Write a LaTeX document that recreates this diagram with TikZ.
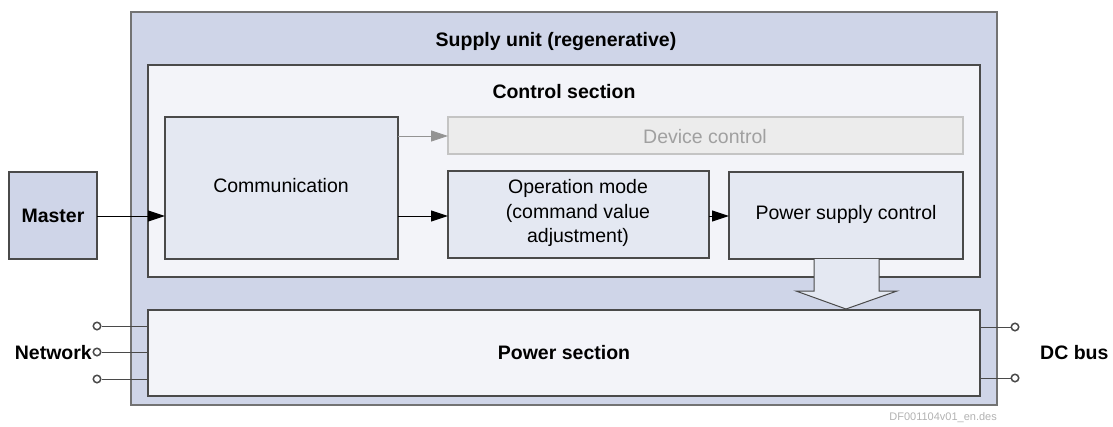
\documentclass[tikz,border=0pt]{standalone}
\usepackage{fontspec}
\setmainfont{Liberation Sans}
\usetikzlibrary{arrows.meta}
\definecolor{unitfill}{HTML}{CFD5E8}
\definecolor{secfill}{HTML}{F3F4F9}
\definecolor{blockfill}{HTML}{E4E8F2}
\definecolor{devfill}{HTML}{ECECEC}
\definecolor{devline}{HTML}{C4C4C4}
\definecolor{devtext}{HTML}{A0A0A0}
\definecolor{edge}{HTML}{4A4A4A}
\tikzset{
  frame/.style={draw=edge, line width=1.3pt, inner sep=0pt, outer sep=0pt, anchor=north west},
  unit/.style={frame, fill=unitfill, draw=gray!90!black},
  section/.style={frame, fill=secfill},
  block/.style={frame, fill=blockfill, align=center, font=\fontsize{19.5}{24.5}\selectfont},
  devblock/.style={frame, fill=devfill, draw=devline, text=devtext, font=\fontsize{19.5}{24}\selectfont},
  heading/.style={font=\bfseries\fontsize{19.5}{24}\selectfont, inner sep=0pt},
  flow/.style={line width=1pt, -{Triangle[length=17pt,width=11pt]}},
  wire/.style={line width=1pt, draw=edge},
  terminal/.style={circle, draw=edge, line width=1.5pt, fill=white, minimum size=7.5pt, inner sep=0pt},
}
\begin{document}
\begin{tikzpicture}[x=1pt, y=-1pt]
\useasboundingbox (0,0) rectangle (1113,426);

% supply unit frame
\node[unit, minimum width=866pt, minimum height=393pt] (unit) at (131,12) {};
\node[heading] (unittitle) at (556,41) {Supply unit (regenerative)};

% control section
\node[section, minimum width=832pt, minimum height=212pt] (ctrl) at (148,65) {};
\node[heading] (ctrltitle) at (564,92) {Control section};

% blocks inside the control section
\node[block, minimum width=233pt, minimum height=142pt] (comm) at (165,117) {};
\node[font=\fontsize{19.5}{24}\selectfont, inner sep=0pt] (commtxt) at (281,186) {Communication};
\node[devblock, minimum width=515pt, minimum height=37pt] (dev) at (448,117) {};
\node[text=devtext, font=\fontsize{19.5}{24}\selectfont, inner sep=0pt] (devtxt) at (705,137) {Device control};
\node[block, minimum width=261pt, minimum height=87pt] (opmode) at (448,171) {};
\node[align=center, font=\fontsize{19.5}{24.5}\selectfont, inner sep=0pt] (optxt) at (578,213) {Operation mode\\(command value\\adjustment)};
\node[block, minimum width=234pt, minimum height=87pt] (psc) at (729,172) {};
\node[font=\fontsize{19.5}{24}\selectfont, inner sep=0pt] (psctxt) at (846,214) {Power supply control};

% power section
\node[section, minimum width=832pt, minimum height=86pt] (power) at (148,310) {};
\node[heading] (powertxt) at (564,353) {Power section};

% master
\node[unit, draw=edge, minimum width=88pt, minimum height=87pt] (master) at (9,172) {};
\node[heading] (mastertxt) at (53,216) {Master};

% signal flow
\draw[flow] (master.east |- 0,216) -- (comm.west |- 0,216);
\draw[flow] (comm.east |- 0,216) -- (opmode.west |- 0,216);
\draw[flow] (opmode.east |- 0,216) -- (psc.west |- 0,216);
\draw[flow, draw=gray!85, line width=0.8pt] (comm.east |- 0,136) -- (dev.west |- 0,136);

% wide arrow from power supply control into the power section
\coordinate (sl) at (814,259);
\coordinate (sr) at (879,259);
\path[fill=blockfill] (sl) -- (814,291) -- (796,291) -- (846,309) -- (897,291) -- (879,291) -- (sr) -- cycle;
\draw[edge, line width=1pt, line join=miter] (sl) -- (814,291) -- (796,291) -- (846,309) -- (897,291) -- (879,291) -- (sr);

% network terminals
\node[terminal] (n1) at (97,326) {};
\node[terminal] (n2) at (97,352) {};
\node[terminal] (n3) at (97,379) {};
\draw[wire] (power.west |- n1) -- (n1);
\draw[wire] (power.west |- n2) -- (n2);
\draw[wire] (power.west |- n3) -- (n3);
\node[heading, anchor=east] (nettxt) at (92,353) {Network};

% DC bus terminals
\node[terminal] (d1) at (1015,327) {};
\node[terminal] (d2) at (1015,378) {};
\draw[wire] (power.east |- d1) -- (d1);
\draw[wire] (power.east |- d2) -- (d2);
\node[heading, anchor=west] (dctxt) at (1040,353) {DC bus};

% drawing reference
\node[anchor=east, text=gray!60, font=\fontsize{11}{13}\selectfont, inner sep=0pt] (ref) at (997,418) {DF001104v01\_en.des};
\end{tikzpicture}
\end{document}
